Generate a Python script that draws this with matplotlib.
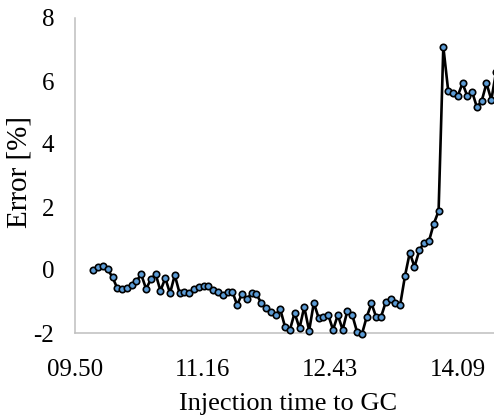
"""GC error over the injection sequence"""

import matplotlib
matplotlib.use("Agg")
import matplotlib.pyplot as plt
from matplotlib.ticker import MultipleLocator, FuncFormatter

plt.rcParams['font.family'] = ['Liberation Serif', 'DejaVu Serif']
plt.rcParams['axes.unicode_minus'] = False

# Axis starts at 09:50, major unit 0.06 day
t0_min = 9 * 60 + 50
major_unit = 86.4

# Injection times, minutes after 09:50
minutes_after_0950 = [
    12.4, 15.6, 18.9, 22.1, 25.4, 28.6, 31.9, 35.1, 38.4, 41.6,
    44.8, 48.1, 51.3, 54.6, 57.8, 61.1, 64.3, 67.5, 70.8, 74.0,
    77.3, 80.5, 83.8, 87.0, 90.3, 93.5, 96.7, 100.0, 103.2, 106.5,
    109.7, 113.0, 116.2, 119.5, 122.7, 125.9, 129.2, 132.4, 135.7, 138.9,
    142.2, 145.4, 148.6, 151.9, 155.1, 158.4, 161.6, 164.9, 168.1, 171.4,
    174.6, 177.8, 181.1, 184.3, 187.6, 190.8, 194.1, 197.3, 200.6, 203.8,
    207.0, 210.3, 213.5, 216.8, 220.0, 223.3, 226.5, 229.7, 233.0, 236.2,
    239.5, 242.7, 246.0, 249.2, 252.5, 255.7, 258.9, 262.2, 265.4, 268.7,
    271.9, 275.2, 278.4, 281.7, 284.9,
]

# Relative error [%]
error_pct = [
    0.00, 0.10, 0.12, 0.02, -0.23, -0.58, -0.60, -0.56, -0.48, -0.35,
    -0.14, -0.60, -0.30, -0.13, -0.66, -0.26, -0.74, -0.16, -0.74, -0.69,
    -0.72, -0.61, -0.53, -0.51, -0.51, -0.62, -0.69,
    -0.79, -0.69, -0.69, -1.11, -0.76, -0.93, -0.74, -0.76, -1.04, -1.20,
    -1.32, -1.43, -1.25, -1.82, -1.90, -1.36, -1.85, -1.17, -1.93, -1.04,
    -1.53, -1.48, -1.43, -1.90, -1.43, -1.90, -1.29, -1.43, -1.96,
    -2.04, -1.50, -1.06, -1.50, -1.50, -1.01, -0.93, -1.04, -1.11, -0.18,
    0.55, 0.10, 0.63, 0.87, 0.92, 1.46, 1.87,
    7.09,
    5.69, 5.63, 5.52, 5.93, 5.52, 5.66, 5.17, 5.37, 5.93, 5.40, 6.30,
]


def clock_label(v, pos):
    total = int(round(t0_min + v))
    return f"{total // 60:02d}.{total % 60:02d}"


fig = plt.figure(figsize=(4.94, 4.16), dpi=100)
# plot area runs past the right edge of the figure
ax = fig.add_axes([75 / 494, 83 / 416, 443.4 / 494, 315 / 416])

ax.plot(minutes_after_0950, error_pct, color='black', lw=1.9,
        marker='o', ms=4.6, mfc='#5b9bd5', mec='black', mew=1.2,
        clip_on=False, zorder=3)

ax.set_xlim(0, 300)
ax.set_ylim(-2, 8)
ax.xaxis.set_major_locator(MultipleLocator(major_unit))
ax.xaxis.set_major_formatter(FuncFormatter(clock_label))
ax.yaxis.set_major_locator(MultipleLocator(2))

for side in ['top', 'right']:
    ax.spines[side].set_visible(False)
for side in ['left', 'bottom']:
    ax.spines[side].set_color('#bfbfbf')
    ax.spines[side].set_linewidth(1.1)

ax.tick_params(axis='both', length=0, labelsize=18, colors='#000000')
ax.tick_params(axis='x', pad=19)
ax.tick_params(axis='y', pad=15)

ax.set_xlabel("Injection time to GC", fontsize=19)
ax.set_ylabel("Error [%]", fontsize=21)
ax.xaxis.set_label_coords(213 / 443.4, -0.19)
ax.yaxis.set_label_coords(-42 / 443.4, 0.51)

fig.savefig("out.png", dpi=100)
